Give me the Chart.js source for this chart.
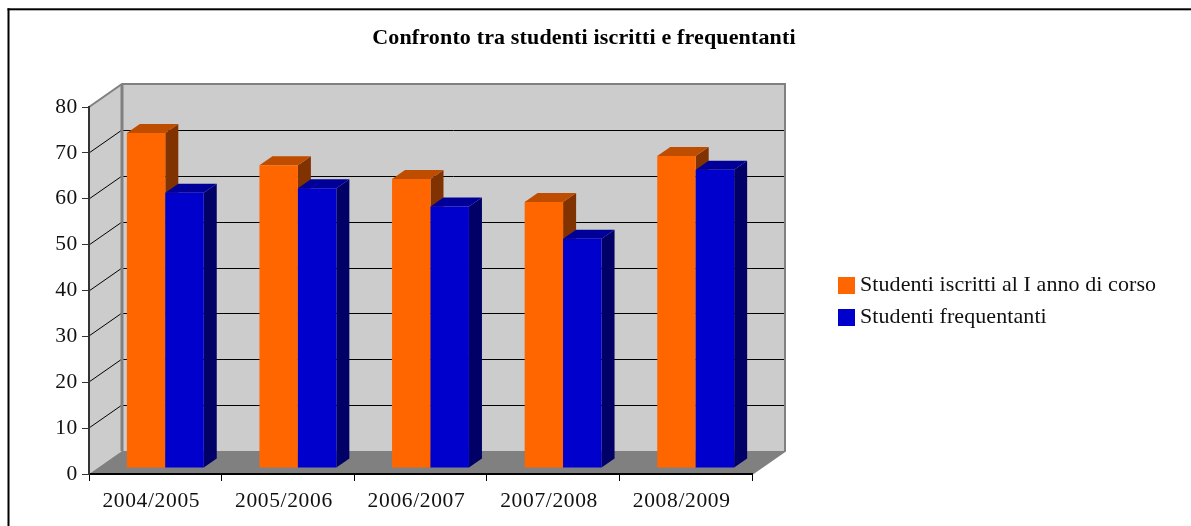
<!DOCTYPE html>
<html><head><meta charset="utf-8">
<style>html,body{margin:0;padding:0;background:#fff}canvas{display:block}</style>
<script src="https://cdn.jsdelivr.net/npm/chart.js@4"></script>
</head><body><canvas id="c" width="1191" height="526"></canvas>
<script>
const categories = ["2004/2005","2005/2006","2006/2007","2007/2008","2008/2009"];
const iscritti = [73,66,63,58,68];
const frequentanti = [60,61,57,50,65];
const seriesNames = ["Studenti iscritti al I anno di corso","Studenti frequentanti"];
const titleText = "Confronto tra studenti iscritti e frequentanti";
const yTicks = {min:0,max:80,step:10};
const SERIF = '"Liberation Serif", serif';

const DEPTH = {dx:33,dy:23};
const BAR_OFF = {dx:10,dy:6};
const BAR_DEPTH = {dx:13,dy:9};
const FACES = [
 {top:'#BF4D00',side:'#803300'},
 {top:'#000099',side:'#000066'}
];

const poly=(ctx,pts,fill)=>{ctx.beginPath();pts.forEach((p,i)=>i?ctx.lineTo(p[0],p[1]):ctx.moveTo(p[0],p[1]));ctx.closePath();ctx.fillStyle=fill;ctx.fill();};
const spaced=(box,ls)=>{
  if(box._spaced) return;
  const d=box.draw;
  box.draw=function(...a){const c=this.ctx,o=c.letterSpacing;c.letterSpacing=ls;d.apply(this,a);c.letterSpacing=o;};
  box._spaced=true;
};

const threeD = {
 id:'threeD',
 beforeLayout(chart){
  const lg=chart.legend;
  if(lg && !lg._wrapped){
    const f=lg.fit; lg.fit=function(){f.call(this); this.width=1191-752;}; lg._wrapped=true;
  }
  spaced(lg,'0.08px');
  spaced(chart.titleBlock,'0.15px');
 },
 afterLayout(chart){
  const lg=chart.legend;
  lg.left=834; lg.right=1191; lg.top=264.5; lg.bottom=340;
  const t=chart.titleBlock;
  t.left-=11.5;t.right-=11.5;
 },
 beforeDraw(chart){
  const ctx=chart.ctx,a=chart.chartArea,ys=chart.scales.y;
  ctx.letterSpacing='0.65px';
  ctx.save();
  ctx.fillStyle='#000';ctx.fillRect(7.5,8.3,1191,2);ctx.fillRect(7.5,8.3,2,518);
  const L=a.left,R=a.right,T=a.top,B=a.bottom,dx=DEPTH.dx,dy=DEPTH.dy;
  poly(ctx,[[L,T],[L+dx,T-dy],[L+dx,B-dy],[L,B]],'#CCCCCC');
  ctx.fillStyle='#CCCCCC';ctx.fillRect(L+dx,T-dy,R-L,B-T);
  poly(ctx,[[L,B],[L+dx,B-dy],[R+dx,B-dy],[R,B]],'#808080');
  ctx.strokeStyle='#000';ctx.lineWidth=1;
  for(let v=yTicks.min+yTicks.step;v<yTicks.max;v+=yTicks.step){
    const y=Math.round(ys.getPixelForValue(v));
    ctx.beginPath();ctx.moveTo(L,y);ctx.lineTo(L+dx,y-dy);ctx.stroke();
    ctx.beginPath();ctx.moveTo(L+dx,y-dy+.5);ctx.lineTo(R+dx,y-dy+.5);ctx.stroke();
  }
  ctx.strokeStyle='#808080';ctx.lineWidth=2;
  ctx.beginPath();ctx.moveTo(L,T);ctx.lineTo(L+dx,T-dy);ctx.lineTo(R+dx,T-dy);ctx.lineTo(R+dx,B-dy);ctx.lineTo(R,B);ctx.stroke();
  ctx.lineWidth=3;
  ctx.beginPath();ctx.moveTo(L+dx,T-dy);ctx.lineTo(L+dx,B-dy);ctx.stroke();
  ctx.restore();
 },
 // Chart.js paints datasets last-to-first; the 3D stacking needs first-to-last.
 beforeDatasetDraw(){return false;},
 afterDatasetsDraw(chart){
  const ctx=chart.ctx;
  chart.data.datasets.forEach((ds,i)=>{
    const meta=chart.getDatasetMeta(i),fc=FACES[i];
    ctx.save();
    ctx.translate(BAR_OFF.dx,-BAR_OFF.dy);
    meta.data.forEach(b=>{
      const l=b.x-b.width/2,r=b.x+b.width/2,t=b.y,bt=b.base,dx=BAR_DEPTH.dx,dy=BAR_DEPTH.dy;
      poly(ctx,[[r,t],[r+dx,t-dy],[r+dx,bt-dy],[r,bt]],fc.side);
      poly(ctx,[[l,t],[l+dx,t-dy],[r+dx,t-dy],[r,t]],fc.top);
    });
    meta.controller.draw();
    ctx.restore();
  });
 }
};

new Chart(document.getElementById('c'),{
 type:'bar',
 data:{labels:categories,datasets:[
  {label:seriesNames[0],data:iscritti,backgroundColor:'#FF6600',borderWidth:0},
  {label:seriesNames[1],data:frequentanti,backgroundColor:'#0000CC',borderWidth:0}
 ]},
 plugins:[threeD],
 options:{
  responsive:false,animation:false,
  categoryPercentage:0.58,barPercentage:1,
  layout:{padding:0},
  scales:{
   x:{
    afterFit(s){s.height=52;},
    grid:{drawOnChartArea:false,offset:true,tickLength:7,tickColor:'#000',tickWidth:1},
    border:{color:'#000',width:2},
    ticks:{color:'#111',font:{family:SERIF,size:21.5},padding:7,maxRotation:0,labelOffset:-4}
   },
   y:{
    min:yTicks.min,max:yTicks.max,
    afterFit(s){s.width=89;},
    ticks:{stepSize:yTicks.step,color:'#111',font:{family:SERIF,size:21.5},padding:4},
    grid:{drawOnChartArea:false,tickLength:7,tickColor:'#333',tickWidth:1},
    border:{color:'#333',width:2}
   }
  },
  plugins:{
   title:{display:true,text:titleText,color:'#000',font:{family:SERIF,size:22,weight:'bold'},padding:{top:25,bottom:55.6}},
   legend:{display:true,position:'right',align:'start',
    labels:{
     color:'#111',font:{family:SERIF,size:22},boxWidth:5,boxHeight:5,padding:10,
     generateLabels(chart){
      return Chart.defaults.plugins.legend.labels.generateLabels(chart).map(it=>({...it,lineWidth:12,strokeStyle:it.fillStyle}));
     }
    }
   },
   tooltip:{enabled:false}
  }
 }
});
</script></body></html>
